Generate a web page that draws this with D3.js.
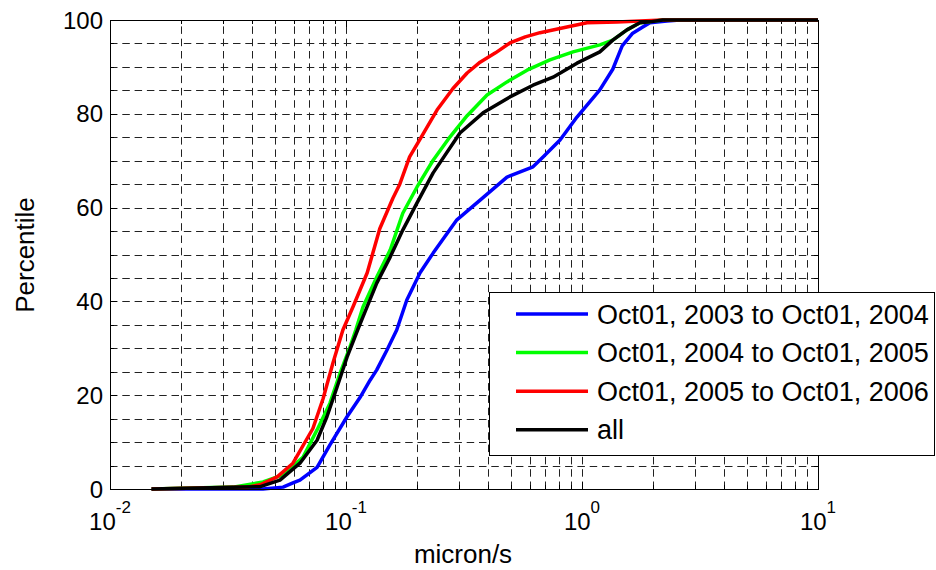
<!DOCTYPE html>
<html>
<head>
<meta charset="utf-8">
<script src="https://cdn.jsdelivr.net/npm/d3@7"></script>
<style>
  body { margin: 0; background: #fff; }
  svg { display: block; }
  text { font-family: Arial, "Liberation Sans", sans-serif; fill: #000; }
</style>
</head>
<body>
<svg id="chart"></svg>
<script>
// series: [micron/s, percentile]
const blue = [[0.015, 0], [0.0445, 0], [0.0541, 0.4], [0.0596, 1.3], [0.0638, 1.9], [0.0754, 4.6], [0.0855, 9.4],
    [0.101, 15.4], [0.1146, 19.5], [0.1265, 23.2], [0.135, 25.4], [0.149, 29.6], [0.164, 33.9], [0.181, 40.3],
    [0.206, 46.1], [0.234, 50.3], [0.295, 57.4], [0.370, 61.6], [0.481, 66.5], [0.620, 68.7], [0.684, 70.8],
    [0.807, 74.4], [0.952, 79.3], [1.19, 85.1], [1.35, 89.5], [1.48, 94.5], [1.64, 97.2], [1.81, 98.5],
    [1.94, 99.4], [2.29, 99.8], [2.6, 100], [10, 100]];
const green = [[0.015, 0], [0.0332, 0.4], [0.0445, 1.5], [0.0541, 3], [0.0658, 6.8], [0.0754, 12.6], [0.0855, 18.3],
    [0.0944, 24.7], [0.104, 30.3], [0.110, 33.9], [0.118, 38.8], [0.135, 45.2], [0.154, 51], [0.174, 58.8],
    [0.200, 64.4], [0.234, 70.1], [0.276, 75.1], [0.326, 79.6], [0.396, 84.0], [0.481, 86.8], [0.585, 89.3],
    [0.731, 91.5], [0.916, 93.2], [1.19, 94.7], [1.35, 95.7], [1.55, 97.9], [1.76, 99.4], [2.2, 100], [10, 100]];
const red = [[0.015, 0], [0.0381, 0.4], [0.0433, 0.9], [0.0511, 2.6], [0.0596, 5.5], [0.0724, 12.9], [0.0800, 19.3],
    [0.0881, 26.9], [0.097, 33.9], [0.107, 38.8], [0.123, 46.1], [0.139, 55.5], [0.158, 62], [0.169, 65],
    [0.186, 70.8], [0.206, 74.6], [0.243, 80.8], [0.284, 85.4], [0.326, 88.7], [0.370, 91], [0.430, 93],
    [0.495, 95.1], [0.575, 96.4], [0.664, 97.3], [0.863, 98.5], [1.05, 99.4], [1.41, 99.6], [1.76, 99.8],
    [2.2, 100], [10, 100]];
const all = [[0.015, 0], [0.0433, 0.5], [0.0525, 1.9], [0.0638, 5.5], [0.0754, 10.4], [0.0830, 15.4], [0.0916, 21.7],
    [0.101, 28.1], [0.112, 33.9], [0.118, 36.7], [0.135, 43.9], [0.154, 49.5], [0.174, 55.2], [0.200, 61.0],
    [0.234, 67.4], [0.304, 75.9], [0.381, 80.2], [0.495, 83.6], [0.620, 86.1], [0.754, 87.8], [0.952, 90.8],
    [1.19, 93.2], [1.35, 95.7], [1.55, 97.9], [1.76, 99.4], [1.94, 99.6], [2.2, 100], [10, 100]];

const seriesNames = ["Oct01, 2003 to Oct01, 2004", "Oct01, 2004 to Oct01, 2005", "Oct01, 2005 to Oct01, 2006", "all"];
const seriesColors = ["#0000ff", "#00ff00", "#ff0000", "#000000"];
const seriesData = [blue, green, red, all];

const xDecades = [-2, -1, 0, 1];
const yTicks = [0, 20, 40, 60, 80, 100];

const width = 936, height = 570;
const plotLeft = 110, plotRight = 818, plotTop = 20, plotBottom = 489;

const svg = d3.select("#chart").attr("width", width).attr("height", height);

const x = d3.scaleLog().domain([0.01, 10]).range([plotLeft, plotRight]);
const y = d3.scaleLinear().domain([0, 100]).range([plotBottom, plotTop]);

// grid
const grid = svg.append("g")
    .attr("stroke", "#222")
    .attr("stroke-width", 1)
    .attr("stroke-dasharray", "7.5,4.8");

grid.selectAll(".gx")
    .data(x.ticks().filter(d => d > 0.01 && d < 10))
    .enter().append("line")
    .attr("x1", d => Math.round(x(d)) + 0.5)
    .attr("x2", d => Math.round(x(d)) + 0.5)
    .attr("y1", plotBottom)
    .attr("y2", plotTop);

grid.selectAll(".gy")
    .data(y.ticks(20).filter(d => d > 0 && d < 100))
    .enter().append("line")
    .attr("x1", plotLeft)
    .attr("x2", plotRight)
    .attr("y1", d => Math.round(y(d)) + 0.5)
    .attr("y2", d => Math.round(y(d)) + 0.5);

// ticks on all four sides
const ticks = svg.append("g").attr("stroke", "#000").attr("stroke-width", 1);
x.ticks().forEach(d => {
    const px = Math.round(x(d)) + 0.5;
    const len = xDecades.includes(Math.round(Math.log10(d) * 1000) / 1000) ? 7 : 4;
    ticks.append("line").attr("x1", px).attr("x2", px).attr("y1", plotBottom).attr("y2", plotBottom - len);
    ticks.append("line").attr("x1", px).attr("x2", px).attr("y1", plotTop).attr("y2", plotTop + len);
});
y.ticks(20).forEach(d => {
    const py = Math.round(y(d)) + 0.5;
    const len = yTicks.includes(d) ? 7 : 4;
    ticks.append("line").attr("x1", plotLeft).attr("x2", plotLeft + len).attr("y1", py).attr("y2", py);
    ticks.append("line").attr("x1", plotRight).attr("x2", plotRight - len).attr("y1", py).attr("y2", py);
});

// curves
const line = d3.line().x(d => x(d[0])).y(d => y(d[1]));
svg.append("g").selectAll("path")
    .data(seriesData)
    .enter().append("path")
    .attr("d", line)
    .attr("fill", "none")
    .attr("stroke", (d, i) => seriesColors[i])
    .attr("stroke-width", 3.5)
    .attr("stroke-linejoin", "round");

// box
svg.append("rect")
    .attr("x", plotLeft + 0.5).attr("y", plotTop + 0.5)
    .attr("width", plotRight - plotLeft).attr("height", plotBottom - plotTop)
    .attr("fill", "none").attr("stroke", "#000").attr("stroke-width", 1);

// tick labels
svg.selectAll(".ylab")
    .data(yTicks)
    .enter().append("text")
    .attr("x", plotLeft - 7)
    .attr("y", d => y(d) + 8.5)
    .attr("text-anchor", "end")
    .attr("font-size", 24)
    .text(d => d);

const xl = svg.selectAll(".xlab")
    .data(xDecades)
    .enter().append("text")
    .attr("x", d => x(Math.pow(10, d)))
    .attr("y", 530)
    .attr("text-anchor", "middle")
    .attr("font-size", 24);
xl.append("tspan").text("10");
xl.append("tspan").attr("dy", -17).attr("font-size", 17).text(d => d);

svg.append("text")
    .attr("x", 463).attr("y", 563)
    .attr("text-anchor", "middle")
    .attr("font-size", 26)
    .text("micron/s");

svg.append("text")
    .attr("transform", "translate(34,255) rotate(-90)")
    .attr("text-anchor", "middle")
    .attr("font-size", 26)
    .text("Percentile");

// legend
const legend = svg.append("g");
legend.append("rect")
    .attr("x", 489.5).attr("y", 292.5)
    .attr("width", 445).attr("height", 163)
    .attr("fill", "#fff").attr("stroke", "#000").attr("stroke-width", 1);

const rows = legend.selectAll(".row")
    .data(seriesNames)
    .enter().append("g")
    .attr("transform", (d, i) => `translate(0,${314 + i * 38.6})`);
rows.append("line")
    .attr("x1", 516).attr("x2", 588)
    .attr("stroke", (d, i) => seriesColors[i])
    .attr("stroke-width", 3.5);
rows.append("text")
    .attr("x", 597).attr("y", 9.5)
    .attr("font-size", 27)
    .text(d => d);
</script>
</body>
</html>
